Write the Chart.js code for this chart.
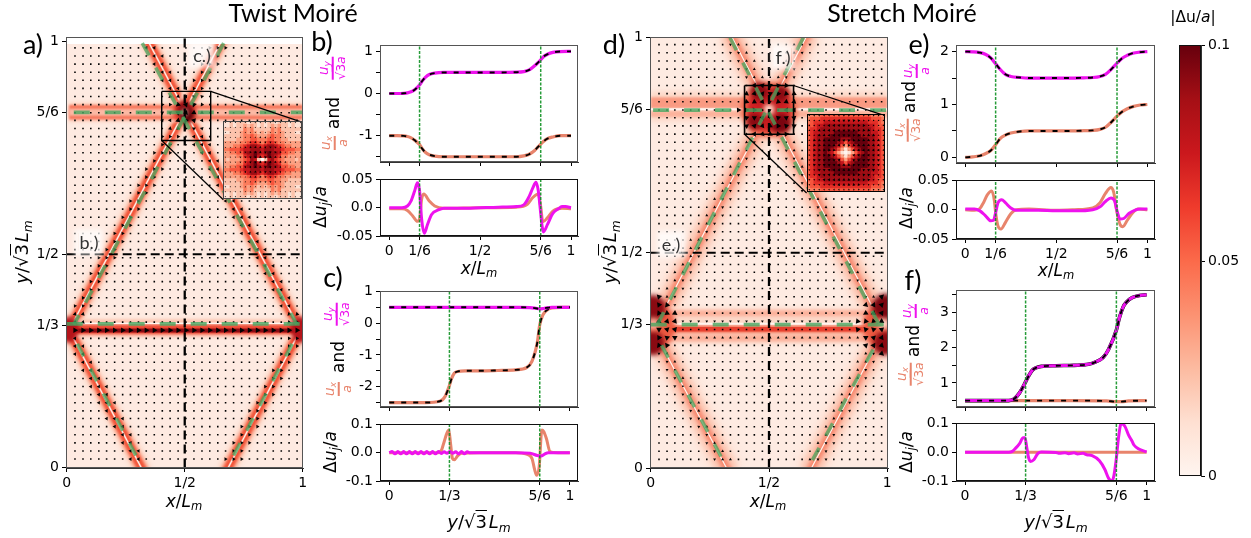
<!DOCTYPE html>
<html><head><meta charset="utf-8">
<style>
html,body{margin:0;padding:0;background:#fff}
#fig{position:relative;width:1251px;height:538px;overflow:hidden;font-family:'DejaVu Sans',sans-serif;color:#000}
canvas{position:absolute}
.t{position:absolute;white-space:nowrap;line-height:1;z-index:5}
.t sub{font-size:68%;line-height:0;vertical-align:-0.3em}
.fr{display:inline-flex;flex-direction:column;align-items:center;line-height:1;font-style:italic}
.fr b{display:block;width:100%;margin:1px 0;font-weight:normal}
.ov{text-decoration:overline;font-style:normal}
.tag{color:#333;background:rgba(255,255,255,.72);box-shadow:0 0 5px 4px rgba(255,255,255,.72);font-family:Lato,sans-serif;padding:0 1px}
</style>
<script src="https://cdn.jsdelivr.net/npm/chart.js@4"></script>
</head><body><div id="fig"></div>
<script>
// ---------- curve data ----------
const bX   =[0,.04,.08,.1,.12,.14,1/6,.18,.2,.22,.25,.3,.4,.5,.6,.7,.74,.77,.8,.82,5/6,.85,.87,.9,.94,1];
const bUy  =[0,0,.005,.015,.04,.09,.2,.29,.39,.45,.485,.5,.5,.5,.5,.505,.52,.56,.66,.74,.8,.88,.93,.975,.995,1];
const bUx  =[-1,-1,-1.005,-1.02,-1.05,-1.11,-1.21,-1.3,-1.4,-1.45,-1.485,-1.5,-1.5,-1.5,-1.5,-1.5,-1.48,-1.44,-1.35,-1.26,-1.2,-1.13,-1.07,-1.03,-1,-1];
const bDyX =[0,.07,.1,.12,.14,.155,1/6,.178,.193,.21,.233,.27,.3,.4,.5,.6,.7,.74,.77,.79,.807,.82,5/6,.84,.848,.87,.9,.93,.95,.97,1];
const bDy  =[0,0,.003,.012,.03,.044,.03,-.02,-.045,-.03,-.012,-.004,-.001,-.001,0,.001,.002,.005,.02,.035,.045,.03,-.01,-.03,-.043,-.03,-.01,-.002,.002,.002,0];
const bDxX =[0,.07,.1,.13,.155,1/6,.178,.19,.22,.25,.3,.5,.7,.76,.79,.82,5/6,.845,.87,.9,.95,1];
const bDx  =[-.002,-.002,-.005,-.015,-.024,-.02,.015,.024,.012,.003,-.001,0,.001,.006,.018,.024,.002,-.025,-.018,-.006,-.001,-.002];

const cX   =[0,.1,.2,.28,.31,1/3,.345,.36,.38,.42,.5,.6,.7,.76,.79,.82,5/6,.85,.87,.9,.95,1];
const cUx  =[-2.5,-2.5,-2.5,-2.46,-2.3,-1.96,-1.75,-1.58,-1.52,-1.5,-1.5,-1.49,-1.47,-1.4,-1.2,-.6,-.05,.25,.4,.48,.5,.5];
const cUyX =[0,.2,.4,.6,.72,.78,.81,5/6,.85,.87,.9,1];
const cUy  =[.5,.5,.5,.5,.5,.49,.47,.45,.46,.48,.5,.5];
const cDxX =[0,.27,.29,.3,.32,.33,.34,.35,.36,.38,.4,.5,.7,.76,.79,.805,.816,.83,.845,.855,.87,.89,.91,1];
const cDx  =[0,0,.01,.03,.07,.08,.03,-.02,-.025,-.01,-.002,0,0,-.005,-.02,-.06,-.08,-.05,.08,.075,.05,.004,.001,0];
const cDyX =[0,.016,.032,.048,.064,.08,.096,.112,.128,.144,.16,.176,.192,.208,.224,.24,.256,.272,.288,.304,.32,.336,.352,.368,.384,.4,.416,.432,.448,.5,.7,.78,.82,.84,.86,.88,1];
const cDy  =[0,.004,-.004,.004,-.004,.004,-.004,.004,-.004,.004,-.004,.004,-.004,.004,-.004,.004,-.004,.004,-.003,.003,-.002,.004,-.002,.003,-.004,.004,-.004,.003,0,0,0,-.002,-.01,-.012,-.005,0,0];

const eX   =[0,.04,.08,.11,.14,1/6,.19,.22,.25,.3,.35,.4,.5,.6,.65,.7,.74,.77,.8,5/6,.86,.89,.92,.96,1];
const eUy  =[2,1.995,1.98,1.95,1.88,1.77,1.67,1.57,1.53,1.51,1.5,1.5,1.5,1.5,1.505,1.51,1.53,1.57,1.66,1.78,1.87,1.93,1.97,1.99,2];
const eUx  =[0,.01,.03,.07,.13,.24,.35,.42,.46,.49,.5,.5,.5,.5,.505,.51,.53,.57,.66,.78,.86,.92,.96,.99,1];
const eDxX =[0,.05,.08,.1,.12,.145,.16,1/6,.18,.196,.22,.25,.28,.35,.5,.6,.7,.74,.77,.8,.815,5/6,.85,.865,.89,.92,.95,1];
const eDx  =[0,-.001,.002,.012,.025,.032,.015,-.005,-.028,-.033,-.022,-.007,0,.001,-.001,0,.003,.012,.028,.038,.03,-.005,-.025,-.029,-.018,-.005,.001,0];
const eDyX =[0,.05,.08,.11,.14,.155,1/6,.18,.2,.22,.25,.28,.4,.5,.6,.7,.74,.77,.8,.82,5/6,.85,.87,.9,.93,.96,1];
const eDy  =[.001,.001,-.002,-.01,-.019,-.018,-.005,.012,.017,.012,.003,-.001,-.001,-.002,-.002,0,.005,.014,.02,.015,-.002,-.016,-.015,-.006,-.001,.001,.001];

const fX   =[0,.1,.2,.24,.27,.3,1/3,.35,.37,.39,.42,.5,.6,.68,.72,.76,.79,5/6,.85,.87,.89,.92,.96,1];
const fUy  =[.5,.5,.5,.5,.55,.72,1.03,1.2,1.36,1.43,1.47,1.49,1.5,1.53,1.6,1.72,1.95,2.5,2.85,3.15,3.3,3.42,3.48,3.5];
const fUxX =[0,.2,.4,.6,.78,5/6,.86,.9,1];
const fUx  =[.5,.5,.5,.5,.49,.47,.47,.49,.5];
const fDyX =[0,.24,.26,.28,.3,.32,.33,.34,.35,.36,.38,.4,.42,.5,.52,.55,.57,.6,.62,.65,.67,.7,.74,.77,.79,.81,.82,5/6,.845,.86,.88,.9,.92,.93,.96,1];
const fDy  =[0,0,.003,.015,.03,.05,.05,.015,-.02,-.032,-.025,-.005,.001,-.001,-.004,-.002,-.005,-.002,-.006,-.004,-.009,-.012,-.03,-.06,-.09,-.1,-.08,-.02,.05,.1,.09,.06,.038,.025,.01,.001];
const fDxX =[0,.5,1];
const fDx  =[0,0,0];

// ---------- tick lists ----------
const ticks16=[0,1/6,1/2,5/6,1],  labels16=['0','1/6','1/2','5/6','1'];
const ticks13=[0,1/3,5/6,1],      labels13=['0','1/3','5/6','1'];
const mapXT=[0,1/2,1],            mapXL=['0','1/2','1'];
const mapYT=[0,1/3,1/2,5/6,1],    mapYL=['0','1/3','1/2','5/6','1'];
const bTopT=[-1.5,-1,-.5,0,.5,1], bTopL=['','-1','','0','','1'];
const cTopT=[-2.5,-2,-1.5,-1,-.5,0,.5,1], cTopL=['','-2','','-1','','0','','1'];
const eTopT=[0,.5,1,1.5,2],       eTopL=['0','','1','','2'];
const fTopT=[.5,1,1.5,2,2.5,3,3.5], fTopL=['','1','','2','','3',''];
const low05T=[-.05,0,.05],        low05L=['-0.05','0.0','0.05'];
const low10T=[-.1,0,.1],          low10L=['-0.1','0.0','0.1'];
const cbarT=[0,.05,.1],           cbarL=['0','0.05','0.1'];

// ---------- map data ----------
const quiverCols=[.035,.069,.102,.136,.169,.203,.237,.27,.304,.337,.371,.405,.438,.472,.505,.539,.573,.606,.64,.673,.707,.741,.774,.808,.841,.875,.909,.942,.976];
const quiverRows=[.02,.039,.058,.077,.096,.115,.133,.152,.171,.19,.209,.228,.247,.266,.285,.303,.322,.341,.36,.379,.398,.417,.436,.455,.473,.492,.511,.53,.549,.568,.587,.606,.625,.644,.662,.681,.7,.719,.738,.757,.776,.795,.814,.832,.851,.87,.889,.908,.927,.946,.965,.984];
const insetGrid=[.03,.093,.157,.22,.283,.347,.41,.473,.537,.6,.663,.727,.79,.853,.917,.98];
const twistDiagonals=[[[.335,1.01],[.973,.34]],[[.665,1.01],[.027,.34]],[[0,.333],[.325,-.01]],[[1,.333],[.675,-.01]]];
const twistGreen=[[[.32,.995],[.975,.336]],[[.665,.995],[.03,.335]],[[.045,.29],[.32,0]],[[.955,.29],[.68,0]]];
const twistGreenRows=[[[.03,.833],[1,.833]],[[0,.337],[1,.337]]];
const stretchDiagonals=[[[.335,1.01],[.97,.34]],[[.665,1.01],[.03,.34]],[[0,.333],[.33,-.01]],[[1,.333],[.67,-.01]]];
const stretchGreen=[[[.335,1],[.97,.328]],[[.645,1],[.03,.335]],[[.046,.285],[.323,0]],[[.94,.275],[.665,0]]];
const stretchGreenRows=[[[.01,.8315],[1,.8315]],[[0,.333],[1,.333]]];
const twistBox=[[.4025,.882],[.61,.882],[.61,.767],[.4025,.767],[.4025,.882]];
const twistLinks=[[[.61,.882],[.9957,.81]],[[.4025,.767],[.6636,.628]]];
const stretchBox=[[.3967,.8889],[.6038,.8889],[.6038,.7755],[.3967,.7755],[.3967,.8889]];
const stretchLinks=[[[.6038,.8889],[.986,.8194]],[[.3967,.7755],[.659,.639]]];
// quadrant of each inset image, heat level 0-9 (outer corner first, centre last)
const twistInset=["112122212212","112122323212","222222434222","112223434323","222223445433","222233445544","333334456654","333445678876","445556778887","334455788987","333344678976","323334568720"];
const stretchInset=["344455555555","455566666666","456667777777","556778888888","566788888888","567788889999","567888899999","567889999988","567889999875","567889998753","567889987531","567889875310"];
const redsStops=['#fff5f0','#fee0d2','#fcbba1','#fc9272','#fb6a4a','#ef3b2c','#cb181d','#a50f15','#67000d'];

// ---------- helpers ----------
const fig=document.getElementById('fig');
Chart.defaults.animation=false;
Chart.defaults.events=[];
Chart.defaults.plugins.legend.display=false;
Chart.defaults.plugins.tooltip.enabled=false;
Chart.defaults.font.family="'DejaVu Sans'";
const MAG='#ee12ee', SAL='#e8846c', GRN='rgba(15,145,35,.9)';
function reds(t){
  const p=Math.min(.9999,Math.max(0,t))*(redsStops.length-1),i=Math.floor(p),f=p-i;
  const h=s=>[1,3,5].map(k=>parseInt(s.substr(k,2),16));
  const a=h(redsStops[i]),b=h(redsStops[i+1]);
  return 'rgb('+a.map((v,k)=>Math.round(v+(b[k]-v)*f)).join(',')+')';
}
const framePlugin={id:'frame',afterDatasetsDraw(c){
  const a=c.chartArea,x=c.ctx;x.save();x.strokeStyle=c.options.frameColor||'#333';x.lineWidth=1;
  x.strokeRect(Math.round(a.left)+.5,Math.round(a.top)+.5,Math.round(a.width)-1,Math.round(a.height)-1);x.restore();}};
const blurPlugin={id:'blur',
  beforeDatasetDraw(c,args){const b=c.data.datasets[args.index].blur;if(b)c.ctx.filter='blur('+b+'px)';},
  afterDatasetDraw(c){c.ctx.filter='none';}};
function mkCanvas(l,t,w,h,z){
  const cv=document.createElement('canvas');cv.width=w;cv.height=h;
  cv.style.left=l+'px';cv.style.top=t+'px';cv.style.zIndex=z||1;fig.appendChild(cv);return cv.getContext('2d');
}
function axis(pos,min,max,tv,tl,hide){
  const horizontal=pos==='bottom';
  return {type:'linear',position:pos,min,max,bounds:'data',
    afterBuildTicks(s){s.ticks=tv.map(v=>({value:v}));},
    afterFit(s){if(horizontal)s.height=32;else s.width=70;},
    ticks:{autoSkip:false,maxRotation:0,minRotation:0,padding:hide?0:3,color:'#000',font:{family:"'DejaVu Sans'",size:14},
      callback:(v,i)=>hide?'':tl[i]},
    grid:{drawOnChartArea:false,drawTicks:true,tickLength:4,color:'#000',lineWidth:1},
    border:{display:true,color:'#333',width:1}};
}
function panel(a,xr,yr,xT,xL,yT,yL,layers,hideX,frameColor,z){
  const PL=70,PT=10,PR=8;
  const ctx=mkCanvas(a.l-PL,a.t-PT,a.r-a.l+PL+PR,a.b-a.t+PT+32,z);
  new Chart(ctx,{type:'scatter',data:{datasets:layers.slice().reverse()},plugins:[framePlugin,blurPlugin],
    options:{responsive:false,frameColor,layout:{autoPadding:false,padding:{left:0,top:PT,right:PR,bottom:0}},
      scales:{x:axis('bottom',xr[0],xr[1],xT,xL,hideX),y:axis('left',yr[0],yr[1],yT,yL,false)}}});
}
const pts=(xs,ys)=>xs.map((x,i)=>({x,y:ys[i]}));
const path=p=>p.map(q=>({x:q[0],y:q[1]}));
const curve=(xs,ys,c,w)=>({data:pts(xs,ys),showLine:true,borderColor:c,borderWidth:w,pointRadius:0,cubicInterpolationMode:'monotone'});
const dashc=(xs,ys)=>({data:pts(xs,ys),showLine:true,borderColor:'#000',borderWidth:1.9,borderDash:[5,7],pointRadius:0,cubicInterpolationMode:'monotone'});
const vline=(x,yr)=>({data:[{x,y:yr[0]},{x,y:yr[1]}],showLine:true,borderColor:GRN,borderWidth:1.5,borderDash:[3,1.5],pointRadius:0});
const stroke=(p,c,w,b,dash)=>({data:path(p),showLine:true,borderColor:c,borderWidth:w,blur:b||0,borderDash:dash||[],pointRadius:0,borderCapStyle:'butt'});
const band=(p,prof)=>prof.map(l=>stroke(p.map(q=>[q[0],q[1]+(l.dy||0)]),l.c,l.w,l.b));
const rings=l=>({data:l.map(r=>({x:r[0],y:r[1]})),pointRadius:l.map(r=>r[2]),pointBackgroundColor:l.map(r=>r[3]),pointBorderWidth:0,blur:l[0][4]||1.5,showLine:false});
const fillRect=(x0,y0,x1,y1,c)=>({data:path([[x0,y0],[x1,y0],[x1,y1],[x0,y1],[x0,y0]]),showLine:true,fill:'shape',backgroundColor:c,borderWidth:0,pointRadius:0});
const segDist=(px,py,s,W,H)=>{ // pixel distance from a lattice point to a wall
  const ax=s[0][0]*W,ay=s[0][1]*H,bx=s[1][0]*W,by=s[1][1]*H,x=px*W,y=py*H;
  const dx=bx-ax,dy=by-ay,t=Math.max(0,Math.min(1,((x-ax)*dx+(y-ay)*dy)/(dx*dx+dy*dy)));
  return {d:Math.hypot(x-ax-t*dx,y-ay-t*dy),sx:ax+t*dx-x,sy:ay+t*dy-y,dx,dy};
};
const deg=(dx,dyUp)=>Math.atan2(dx,dyUp)*180/Math.PI; // up = 0, clockwise positive
function quiver(kind,cols,rows,W,H,diags){
  const data=[],style=[],rad=[],rot=[];
  rows.forEach((ry,ri)=>cols.forEach(cx=>{
    let s='rect',r=1.12,an=0;
    const toC=Math.hypot((cx-.5)*W,(ry-.833)*H);
    const toL=Math.hypot(cx*W,(ry-.333)*H),toR=Math.hypot((cx-1)*W,(ry-.333)*H);
    if(kind==='twist'){
      for(const w of diags){const g=segDist(cx,ry,w,W,H);
        if(g.d<8){s='triangle';r=2.1;an=deg(g.dx,g.dy);}}
      if(ri===16){s='triangle';r=3.2;an=90;}
      if(toC<24){s='triangle';r=toC<14?3:2.2;an=deg(-(ry-.833)*H,(cx-.5)*W);}
      if(ri>=17&&ri<=19&&(toL<20||toR<20)){s='triangle';r=2.3;an=deg(toL<20?1:-1,-1);}
    }else{
      for(const w of diags){const g=segDist(cx,ry,w,W,H);
        if(g.d<9&&g.d>.5){s='triangle';r=1.7;an=deg(g.sx,g.sy);}}
      if(ri===17||ri===15){s='triangle';r=1.6;an=ri===17?180:0;}
      if(toC<31){s='triangle';r=toC<10?1.6:3;an=deg((.5-cx)*W,(.833-ry)*H);}
      if(toL<30||toR<30){const left=toL<30;s='triangle';r=3.2;
        an=deg((left?0:1)*W-cx*W,(.333-ry)*H);}
    }
    data.push({x:cx,y:ry});style.push(s);rad.push(r);rot.push(an);
  }));
  return {data,showLine:false,pointStyle:style,pointRadius:rad,pointRotation:rot,pointBackgroundColor:'#000',pointBorderWidth:0};
}
function inset(a,quad,kind,frameColor){
  const ctx=mkCanvas(a.l,a.t,a.r-a.l,a.b-a.t,3);
  const n=quad.length*2-1,cells=[],cols=[];
  for(let r=0;r<n;r++)for(let c=0;c<n;c++){
    const rr=r<quad.length?r:n-1-r,cc=c<quad.length?c:n-1-c;
    cells.push({x:(c+.5)/n,y:1-(r+.5)/n});cols.push(reds(+quad[rr][cc]/9));
  }
  const side=(a.r-a.l)/n,marks=[],rad=[],rot=[];
  insetGrid.forEach(y=>insetGrid.forEach(x=>{
    const dx=x-.5,dy=y-.5,d=Math.hypot(dx,dy);
    marks.push({x,y});
    if(kind==='twist'){rad.push(d<.3?1.7-d*2:.8);rot.push(deg(-dy,dx));}
    else{rad.push(d<.1?.5:d<.45?1.7:1.1);rot.push(deg(-dx,-dy));}
  }));
  new Chart(ctx,{type:'scatter',plugins:[framePlugin],data:{datasets:[
    {data:marks,pointStyle:'triangle',pointRadius:rad,pointRotation:rot,pointBackgroundColor:'#000',pointBorderWidth:0},
    {data:cells,pointStyle:'rect',pointRadius:(side+.7)/Math.SQRT2,pointBackgroundColor:cols,pointBorderWidth:0}]},
    options:{responsive:false,frameColor,layout:{autoPadding:false,padding:0},
      scales:{x:{display:false,min:0,max:1},y:{display:false,min:0,max:1}}}});
}
function text(html,cx,cy,o){
  o=o||{};const e=document.createElement('div');e.className='t '+(o.cls||'');e.innerHTML=html;
  e.style.left=cx+'px';e.style.top=cy+'px';e.style.fontSize=(o.size||17)+'px';
  if(o.font)e.style.fontFamily=o.font;if(o.color)e.style.color=o.color;
  e.style.transform='translate(-50%,-50%) rotate('+(o.rot||0)+'deg)';fig.appendChild(e);
}
const frac=(n,d,c)=>'<span class="fr" style="color:'+c+'"><span>'+n+'</span><b style="height:2.6px;background:'+c+'"></b><span style="font-size:92%">'+d+'</span></span>';

// ---------- map panels ----------
const diagTwist=[{w:20,c:'#fddccd',b:2},{w:13.5,c:'#fba88e',b:1.5},{w:8.5,c:'#f1553a',b:.9},{w:2.2,c:'#f78f78',b:.5},{w:1.1,c:'#fff5f0',b:0}];
const diagStretch=[{w:33,c:'#fee3d7',b:3},{w:21,c:'#fcc6b2',b:2.5},{w:10,c:'#f99c84',b:1.5},{w:4.5,c:'#f6896e',b:.8},{w:1.2,c:'#fff5f0',b:0}];
const greenDiag=p=>stroke(p,'rgba(72,165,95,.75)',3.6,0,[14,14]);
const greenRow=p=>stroke(p,'rgba(72,165,95,.8)',3.8,0,[16,15]);
const twistLayers=[
  fillRect(0,0,1,1.02,'#feeae1'),
  ...twistDiagonals.flatMap(p=>band(p,diagTwist)),
  ...band([[.01,.833],[1,.833]],[{w:20,c:'#fdd4c3',b:1.5},{w:14.5,c:'#f6755a',b:.8},{w:7,c:'#fbb9a4',b:.8}]),
  ...band([[0,.3235],[1,.3235]],[{w:18,c:'#fcc4b0',b:1.5,dy:.003},{w:9.5,c:'#ee4a35',b:.8},{w:4,c:'#8c0a12',b:.4,dy:-.002}]),
  stroke([[0,.3385],[1,.3385]],'#fff5f0',1.6,0),
  rings([[.5,.833,12,'#e8402f',2],[.5,.84,8,'#8b0a12'],[.51,.826,7,'#5a0009'],[.5,.833,3,'#f9c8b4'],
         [.01,.33,10,'#b5141a'],[.01,.312,8,'#b5141a'],[.99,.33,10,'#b5141a'],[.99,.312,8,'#b5141a']]),
  fillRect(-.01,.993,1.01,1.02,'#ffffff'),
  quiver('twist',quiverCols,quiverRows,236,428,twistDiagonals),
  stroke([[.5,0],[.5,1.02]],'#000',2.3,0,[9,5]),
  stroke([[0,.5],[1,.5]],'#000',2,0,[9,5]),
  ...twistGreen.map(greenDiag),...twistGreenRows.map(greenRow),
  stroke(twistBox,'#000',1.4,0),
  ...twistLinks.map(p=>stroke(p,'#000',1.2,0))
];
const stretchLayers=[
  fillRect(0,0,1,1.02,'#feebe2'),
  ...stretchDiagonals.flatMap(p=>band(p,diagStretch)),
  ...band([[0,.84],[1,.84]],[{w:30,c:'#fdd8c8',b:2}]),
  ...band([[0,.8486],[1,.8486]],[{w:11,c:'#f99a82',b:1.2}]),
  ...band([[0,.8225],[1,.8225]],[{w:6,c:'#fcb39c',b:1.2}]),
  stroke([[0,.8335],[1,.8335]],'#fff5f0',2,0),
  ...band([[0,.33],[1,.33]],[{w:36,c:'#fdd9c9',b:2}]),
  ...band([[0,.3594],[1,.3594]],[{w:6,c:'#fbb09a',b:1.5}]),
  ...band([[0,.302],[1,.302]],[{w:7,c:'#fbb09a',b:1.5}]),
  ...band([[0,.3225],[1,.3225]],[{w:8,c:'#f57c62',b:1},{w:4.5,c:'#e8402f',b:.6}]),
  stroke([[0,.3352],[1,.3352]],'#fff5f0',1.8,0),
  rings([[.5,.833,28,'#f0654a',2.5],[.5,.833,22,'#cf2023'],[.46,.875,9,'#8a0a12'],[.55,.87,8,'#8a0a12'],[.44,.805,8,'#8a0a12'],[.55,.8,10,'#7a0510'],[.5,.83,9,'#b5141a'],[.5,.833,6,'#f8a58e'],[.5,.833,3,'#ffffff']]),
  rings([[0,.33,25,'#ee5b42',2.5],[1,.33,25,'#ee5b42'],[.008,.372,13,'#8a0a12'],[.008,.29,12,'#8a0a12'],[.992,.375,13,'#7a0510'],[.992,.29,12,'#8a0a12'],[.01,.335,6,'#f7b09c'],[.985,.335,5,'#fde4d8']]),
  quiver('stretch',quiverCols,quiverRows,236.6,432,stretchDiagonals),
  stroke([[.5,0],[.5,1.02]],'#000',2.3,0,[9,5]),
  stroke([[0,.5],[1,.5]],'#000',2,0,[9,5]),
  ...stretchGreen.map(greenDiag),...stretchGreenRows.map(greenRow),
  stroke(stretchBox,'#000',1.6,0),
  ...stretchLinks.map(p=>stroke(p,'#000',1.2,0))
];
panel({l:66,r:303,t:36,b:468},[-.003,1.001],[-.001,1.0086],mapXT,mapXL,mapYT,mapYL,twistLayers,false,'#555');
panel({l:650,r:888,t:36,b:468},[-.003,1.003],[0,1.0007],mapXT,mapXL,mapYT,mapYL,stretchLayers,false,'#555');
inset({l:223,r:302,t:121,b:199},twistInset,'twist','#444');
inset({l:807,r:885,t:114,b:192},stretchInset,'stretch','#000');

// ---------- line panels ----------
const rb=[-.051,1.0385],rc=[-.051,1.045],re=[-.051,1.042],rf=[-.05,1.046];
let yr=[-1.624,1.141];
panel({l:380,r:578,t:44,b:162},rb,yr,ticks16,labels16,bTopT,bTopL,[curve(bX,bUx,SAL,3.2),dashc(bX,bUx),curve(bX,bUy,MAG,3.2),dashc(bX,bUy),vline(1/6,yr),vline(5/6,yr)],true,'#555');
yr=[-.05,.05];
panel({l:380,r:578,t:178,b:236},rb,yr,ticks16,labels16,low05T,low05L,[curve(bDxX,bDx,SAL,3),curve(bDyX,bDy,MAG,3),vline(1/6,yr),vline(5/6,yr)],false,'#111');
yr=[-2.64,1];
panel({l:380,r:578,t:290,b:407},rc,yr,ticks13,labels13,cTopT,cTopL,[curve(cX,cUx,SAL,3.2),dashc(cX,cUx),curve(cUyX,cUy,MAG,3.2),dashc(cUyX,cUy),vline(1/3,yr),vline(5/6,yr)],true,'#555');
yr=[-.1,.1];
panel({l:380,r:578,t:423,b:481},rc,yr,ticks13,labels13,low10T,low10L,[curve(cDxX,cDx,SAL,3),curve(cDyX,cDy,MAG,3),vline(1/3,yr),vline(5/6,yr)],false,'#111');
yr=[-.106,2.117];
panel({l:956,r:1155,t:44,b:163},re,yr,ticks16,labels16,eTopT,eTopL,[curve(eX,eUx,SAL,3.2),dashc(eX,eUx),curve(eX,eUy,MAG,3.2),dashc(eX,eUy),vline(1/6,yr),vline(5/6,yr)],true,'#555');
yr=[-.05,.05];
panel({l:956,r:1155,t:179,b:239},re,yr,ticks16,labels16,low05T,low05L,[curve(eDxX,eDx,SAL,3),curve(eDyX,eDy,MAG,3),vline(1/6,yr),vline(5/6,yr)],false,'#111');
yr=[.319,3.625];
panel({l:956,r:1155,t:289,b:407},rf,yr,ticks13,labels13,fTopT,fTopL,[curve(fUxX,fUx,SAL,3.2),dashc(fUxX,fUx),curve(fX,fUy,'#000',3.6),curve(fX,fUy,MAG,3),dashc(fX,fUy),vline(1/3,yr),vline(5/6,yr)],true,'#555');
yr=[-.1,.1];
panel({l:956,r:1155,t:422,b:481},rf,yr,ticks13,labels13,low10T,low10L,[curve(fDxX,fDx,SAL,3),curve(fDyX,fDy,MAG,3),vline(1/3,yr),vline(5/6,yr)],false,'#111');

// ---------- colour bar ----------
(function(){
  const ctx=mkCanvas(1179,34,72,454);
  new Chart(ctx,{type:'bar',plugins:[framePlugin],
    data:{labels:['cbar'],datasets:[{data:[[0,.1]],barPercentage:1,categoryPercentage:1,
      backgroundColor(c){const a=c.chart.chartArea;if(!a)return '#fff';
        const g=c.chart.ctx.createLinearGradient(0,a.bottom,0,a.top);
        redsStops.forEach((s,i)=>g.addColorStop(i/(redsStops.length-1),s));return g;}}]},
    options:{responsive:false,frameColor:'#111',layout:{autoPadding:false,padding:{left:0,right:0,top:10,bottom:11}},
      scales:{x:{display:false},y:{position:'right',min:0,max:.1,bounds:'data',
        afterBuildTicks(s){s.ticks=cbarT.map(v=>({value:v}));},
        afterFit(s){s.width=50;},
        ticks:{autoSkip:false,padding:3,color:'#000',font:{family:"'DejaVu Sans'",size:14},callback:(v,i)=>cbarL[i]},
        grid:{drawOnChartArea:false,drawTicks:true,tickLength:4,color:'#000'},border:{display:true,color:'#333'}}}}});
})();

// ---------- text ----------
const CAL="Lato,'Open Sans',sans-serif";
text('Twist Moiré',293,12,{size:25,font:CAL});
text('Stretch Moiré',902,12,{size:25,font:CAL});
text('|Δu/<i>a</i>|',1193,18,{size:15.5});
[['a)',33,43],['b)',322,40],['c)',333,276],['d)',614,43],['e)',919,43],['f)',913,279]].forEach(l=>text(l[0],l[1],l[2],{size:27,font:CAL}));
[['c.)',202,55],['b.)',89,242],['f.)',783,57],['e.)',671,244]].forEach(l=>text(l[0],l[1],l[2],{size:18,cls:'tag'}));
const XL='<i>x</i>/<i>L<sub>m</sub></i>';
const YL='<i>y</i>/√<span class="ov">3</span>&#8202;<i>L<sub>m</sub></i>';
const DU='Δ<i>u<sub>j</sub></i>/<i>a</i>';
text(XL,184,501);text(XL,768,501);
text(YL,22,252,{rot:-90,size:18});text(YL,610,252,{rot:-90,size:18});
text(XL,479,268);text(XL,1056,270);
text(YL,479,522,{size:18});text(YL,1056,522,{size:18});
text(DU,320,207,{rot:-90});text(DU,330,452,{rot:-90});text(DU,906,208,{rot:-90});text(DU,906,452,{rot:-90});
const UY='u<sub>y</sub>',UX='u<sub>x</sub>',S3='√<span class="ov">3</span>a';
const mini=(h,x,y)=>text(h,x,y,{size:13.5,rot:-90});
text('and',333,113,{rot:-90});text('and',338,357,{rot:-90});text('and',909,97,{rot:-90});text('and',913,341,{rot:-90});
mini(frac(UY,S3,MAG),332,68);mini(frac(UX,'a',SAL),334,143);
mini(frac(UY,S3,MAG),336,314);mini(frac(UX,'a',SAL),338,389);
mini(frac(UY,'a',MAG),916,71);mini(frac(UX,S3,SAL),907,130);
mini(frac(UY,'a',MAG),915,311);mini(frac(UX,S3,SAL),910,374);
</script></body></html>
